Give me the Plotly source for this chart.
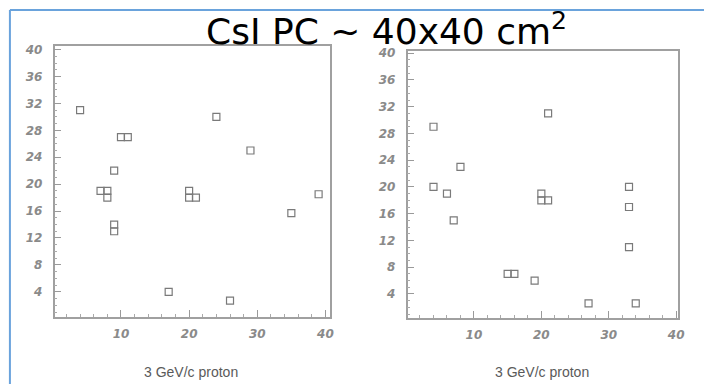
import plotly.graph_objects as go

# Data
left_x = [4, 24, 10, 11, 29, 9, 7, 8, 8, 9, 9, 20, 20, 21, 39, 35, 17, 26]
left_y = [31, 30, 27, 27, 25, 22, 19, 19, 18, 14, 13, 19, 18, 18, 18.5, 15.7, 4, 2.7]
right_x = [4, 21, 8, 4, 6, 33, 20, 20, 21, 7, 33, 33, 15, 16, 19, 27, 34]
right_y = [29, 31, 23, 20, 19, 20, 19, 18, 18, 15, 17, 11, 7, 7, 6, 2.6, 2.6]
x_ticks = [10, 20, 30, 40]
y_ticks = [4, 8, 12, 16, 20, 24, 28, 32, 36, 40]
title_text = "CsI PC ~ 40x40 cm<sup>2</sup>"
x_title = "3 GeV/c proton"

W, H = 710, 384

def px(x):
    return x / W

def py(y):
    return 1 - y / H

fig = go.Figure()
mk = dict(symbol="square-open", size=7, color="#7a7a7a", line=dict(width=1.2, color="#7a7a7a"))
fig.add_trace(go.Scatter(x=left_x, y=left_y, mode="markers", marker=mk, xaxis="x", yaxis="y", showlegend=False))
fig.add_trace(go.Scatter(x=right_x, y=right_y, mode="markers", marker=mk, xaxis="x2", yaxis="y2", showlegend=False))

tickfont = dict(family="DejaVu Sans", size=12, color="#8a8a8a", style="italic", weight="bold")
common_x = dict(tickvals=x_ticks, ticks="inside", ticklen=7, tickcolor="#9a9a9a", tickwidth=1,
                minor=dict(dtick=2, ticks="inside", ticklen=3, tickcolor="#aaaaaa"),
                showline=True, mirror=True, linecolor="#a0a0a0", linewidth=1.5,
                showgrid=False, zeroline=False, tickfont=tickfont, ticklabelstandoff=5)
common_y = dict(tickvals=y_ticks, ticks="inside", ticklen=7, tickcolor="#9a9a9a", tickwidth=1,
                minor=dict(dtick=1, ticks="inside", ticklen=3, tickcolor="#aaaaaa"),
                showline=True, mirror=True, linecolor="#a0a0a0", linewidth=1.5,
                showgrid=False, zeroline=False, tickfont=tickfont, ticklabelstandoff=8)

fig.update_layout(
    width=W, height=H, margin=dict(l=0, r=0, t=0, b=0),
    paper_bgcolor="white", plot_bgcolor="white",
    xaxis=dict(common_x, domain=[px(55), px(333)], range=[0.25, 40.7], anchor="y"),
    yaxis=dict(common_y, domain=[py(316), py(42)], range=[0.3, 40.6], anchor="x"),
    xaxis2=dict(common_x, domain=[px(411), px(684)], range=[0.15, 40.3], anchor="y2"),
    yaxis2=dict(common_y, domain=[py(317), py(47)], range=[0.45, 40.4], anchor="x2"),
)

fig.add_annotation(x=px(390), y=py(25), xref="paper", yref="paper", text=title_text,
                   showarrow=False, font=dict(family="DejaVu Sans", size=36, color="black"),
                   xanchor="center", yanchor="middle")
for cx in (193, 547):
    fig.add_annotation(x=px(cx), y=py(372), xref="paper", yref="paper", text=x_title,
                       showarrow=False, font=dict(family="Liberation Sans", size=14, color="#5a5a5a"),
                       xanchor="center", yanchor="middle")

# slide frame lines
fig.add_shape(type="line", xref="paper", yref="paper", x0=px(10), x1=px(10), y0=0, y1=py(6),
              line=dict(color="#6aa3dc", width=2))
fig.add_shape(type="line", xref="paper", yref="paper", x0=px(10), x1=1, y0=py(6), y1=py(6),
              line=dict(color="#6aa3dc", width=2))

fig.write_html("out.html")
